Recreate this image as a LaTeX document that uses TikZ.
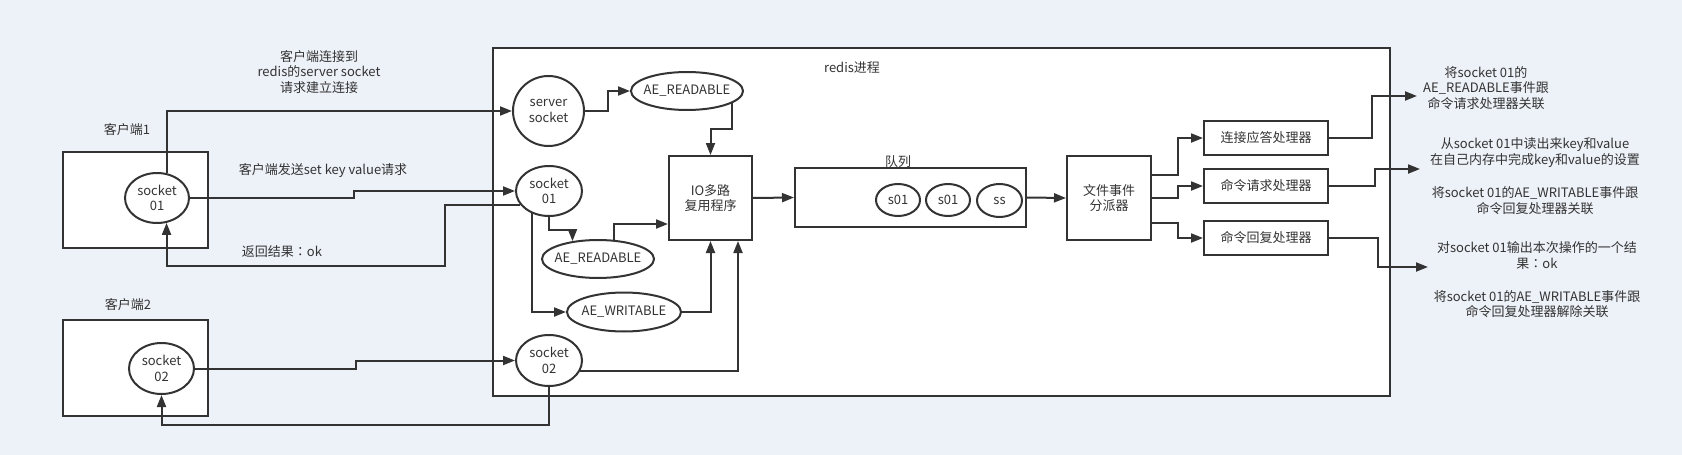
\documentclass[tikz,border=0pt]{standalone}
\usepackage{fontspec}
\setmainfont{Noto Sans CJK SC}
\newfontfamily\tcfont{Noto Sans CJK TC}
\usetikzlibrary{arrows.meta,shapes.geometric,calc}
\definecolor{bg}{HTML}{EDF1F8}
\definecolor{ink}{HTML}{333333}
\begin{document}
\begin{tikzpicture}[x=1pt,y=-1pt,
  every node/.style={font=\fontsize{13}{15.5}\selectfont, text=ink},
  rbox/.style={draw=ink, line width=2pt, fill=white, rectangle, inner sep=0pt},
  ell/.style={draw=ink, line width=2pt, fill=white, ellipse, inner sep=0pt, align=center},
  txt/.style={align=center, inner sep=0pt},
  conn/.style={draw=ink, line width=2pt, -{Triangle[length=12pt,width=9pt]}},
]
\useasboundingbox (0,0) rectangle (1682,455);
\fill[bg] (0,0) rectangle (1682,455);

% clients
\node[rbox, minimum width=145pt, minimum height=96pt] (c1box) at (135.5,200) {};
\node[txt] (c1lab) at (127,130) {客户端1};
\node[ell, minimum width=64pt, minimum height=50pt] (c1s) at (157,198) {socket\\01};
\node[rbox, minimum width=145pt, minimum height=96pt] (c2box) at (135.5,368) {};
\node[txt] (c2lab) at (128,305) {客户端2};
\node[ell, minimum width=65pt, minimum height=51pt] (c2s) at (161.5,368.5) {socket\\02};

% redis process
\node[rbox, minimum width=897pt, minimum height=348pt] (redis) at (941.5,222) {};
\node[txt] (rlab) at (852,68) {redis进程};
\node[ell, minimum width=71pt, minimum height=70pt] (sso) at (548.5,111) {server\\socket};
\node[ell, minimum width=112pt, minimum height=38pt] (ar1) at (687,91) {\makebox[0pt]{AE\_READABLE}};
\node[ell, minimum width=66pt, minimum height=50pt] (ss1) at (549,191) {socket\\01};
\node[ell, minimum width=112pt, minimum height=38pt] (ar2) at (598,259) {\makebox[0pt]{AE\_READABLE}};
\node[ell, minimum width=114pt, minimum height=39pt] (aw) at (624,312) {\makebox[0pt]{AE\_WRITABLE}};
\node[ell, minimum width=66pt, minimum height=51pt] (ss2) at (549,360.5) {socket\\02};
\node[rbox, minimum width=83pt, minimum height=84pt, align=center] (io) at (710.5,198) {IO多路\\复用程序};
\node[rbox, minimum width=231pt, minimum height=59pt] (q) at (910.5,197.5) {};
\node[txt] (qlab) at (898,162) {队列};
\node[ell, minimum width=44pt, minimum height=32pt] (e1) at (898,200) {s01};
\node[ell, minimum width=44pt, minimum height=32pt] (e2) at (948,200) {s01};
\node[ell, minimum width=45pt, minimum height=33pt] (e3) at (999.5,200.5) {ss};
\node[rbox, minimum width=84pt, minimum height=84pt, align=center] (disp) at (1109,198) {文件事件\\分派器};
\node[rbox, minimum width=124pt, minimum height=34pt] (h1) at (1266,138) {连接应答处理器};
\node[rbox, minimum width=124pt, minimum height=34pt] (h2) at (1266,186) {命令请求处理器};
\node[rbox, minimum width=124pt, minimum height=34pt] (h3) at (1266,238) {命令回复处理器};

% free texts
\node[txt] (tcon) at (319,72) {客户端连接到\\redis的server socket\\请求建立连接};
\node[txt] (tsend) at (323,171) {客户端发送set key value请求};
\node[txt] (tret) at (282,252) {返回结果{\tcfont ：}ok};
\node[txt] (r1) at (1486,88) {将socket 01的\\AE\_READABLE事件跟\\命令请求处理器关联};
\node[txt] (r2) at (1535,152.5) {从socket 01中读出来key和value\\在自己内存中完成key和value的设置};
\node[txt] (r3) at (1535,200.5) {将socket 01的AE\_WRITABLE事件跟\\命令回复处理器关联};
\node[txt] (r4) at (1537,255.5) {对socket 01输出本次操作的一个结\\果{\tcfont ：}ok};
\node[txt] (r5) at (1537,304) {将socket 01的AE\_WRITABLE事件跟\\命令回复处理器解除关联};

\coordinate (t1) at (1417,96);
\coordinate (t2) at (1420,169);
\coordinate (t3) at (1428,267);

% connectors
\draw[conn] (c1s.69) |- (sso.west);
\draw[conn] (c1s.east) -- ++(164,0) |- (ss1.west);
\draw[conn] (ss1.205) -| (445,266) -| (c1s.-69);
\draw[conn] (c2s.east) -- ++(161,0) |- (ss2.west);
\draw[conn] (ss2.south) -- ++(0,38) -| (c2s.south);

\draw[conn] (sso.east) -- ++(23,0) |- (ar1.west);
\draw[conn] (ar1.-15) -- ++(0,26) -| (io.north);
\draw[conn] (ss1.south) -- ++(0,13) -| (ar2.145);
\draw[conn] (ar2.51) |- ($(io.west)+(0,26)$);
\draw[conn] (ss1.232) |- (aw.west);
\draw[conn] (aw.east) -| (io.south);
\draw[conn] (ss2.-19) -| ($(io.south east)+(-15,0)$);

\draw[conn] (io.east) -- (q.west);
\draw[conn] (q.east) -- (disp.west);
\draw[conn] ($(disp.east)+(0,-23)$) -- ++(26,0) |- (h1.west);
\draw[conn] (disp.east) -- ++(26,0) |- (h2.west);
\draw[conn] ($(disp.east)+(0,25)$) -- ++(26,0) |- (h3.west);

\draw[conn] (h1.east) -- ++(43,0) |- (t1);
\draw[conn] (h2.east) -- ++(46,0) |- (t2);
\draw[conn] (h3.east) -- ++(49,0) |- (t3);
\end{tikzpicture}
\end{document}
